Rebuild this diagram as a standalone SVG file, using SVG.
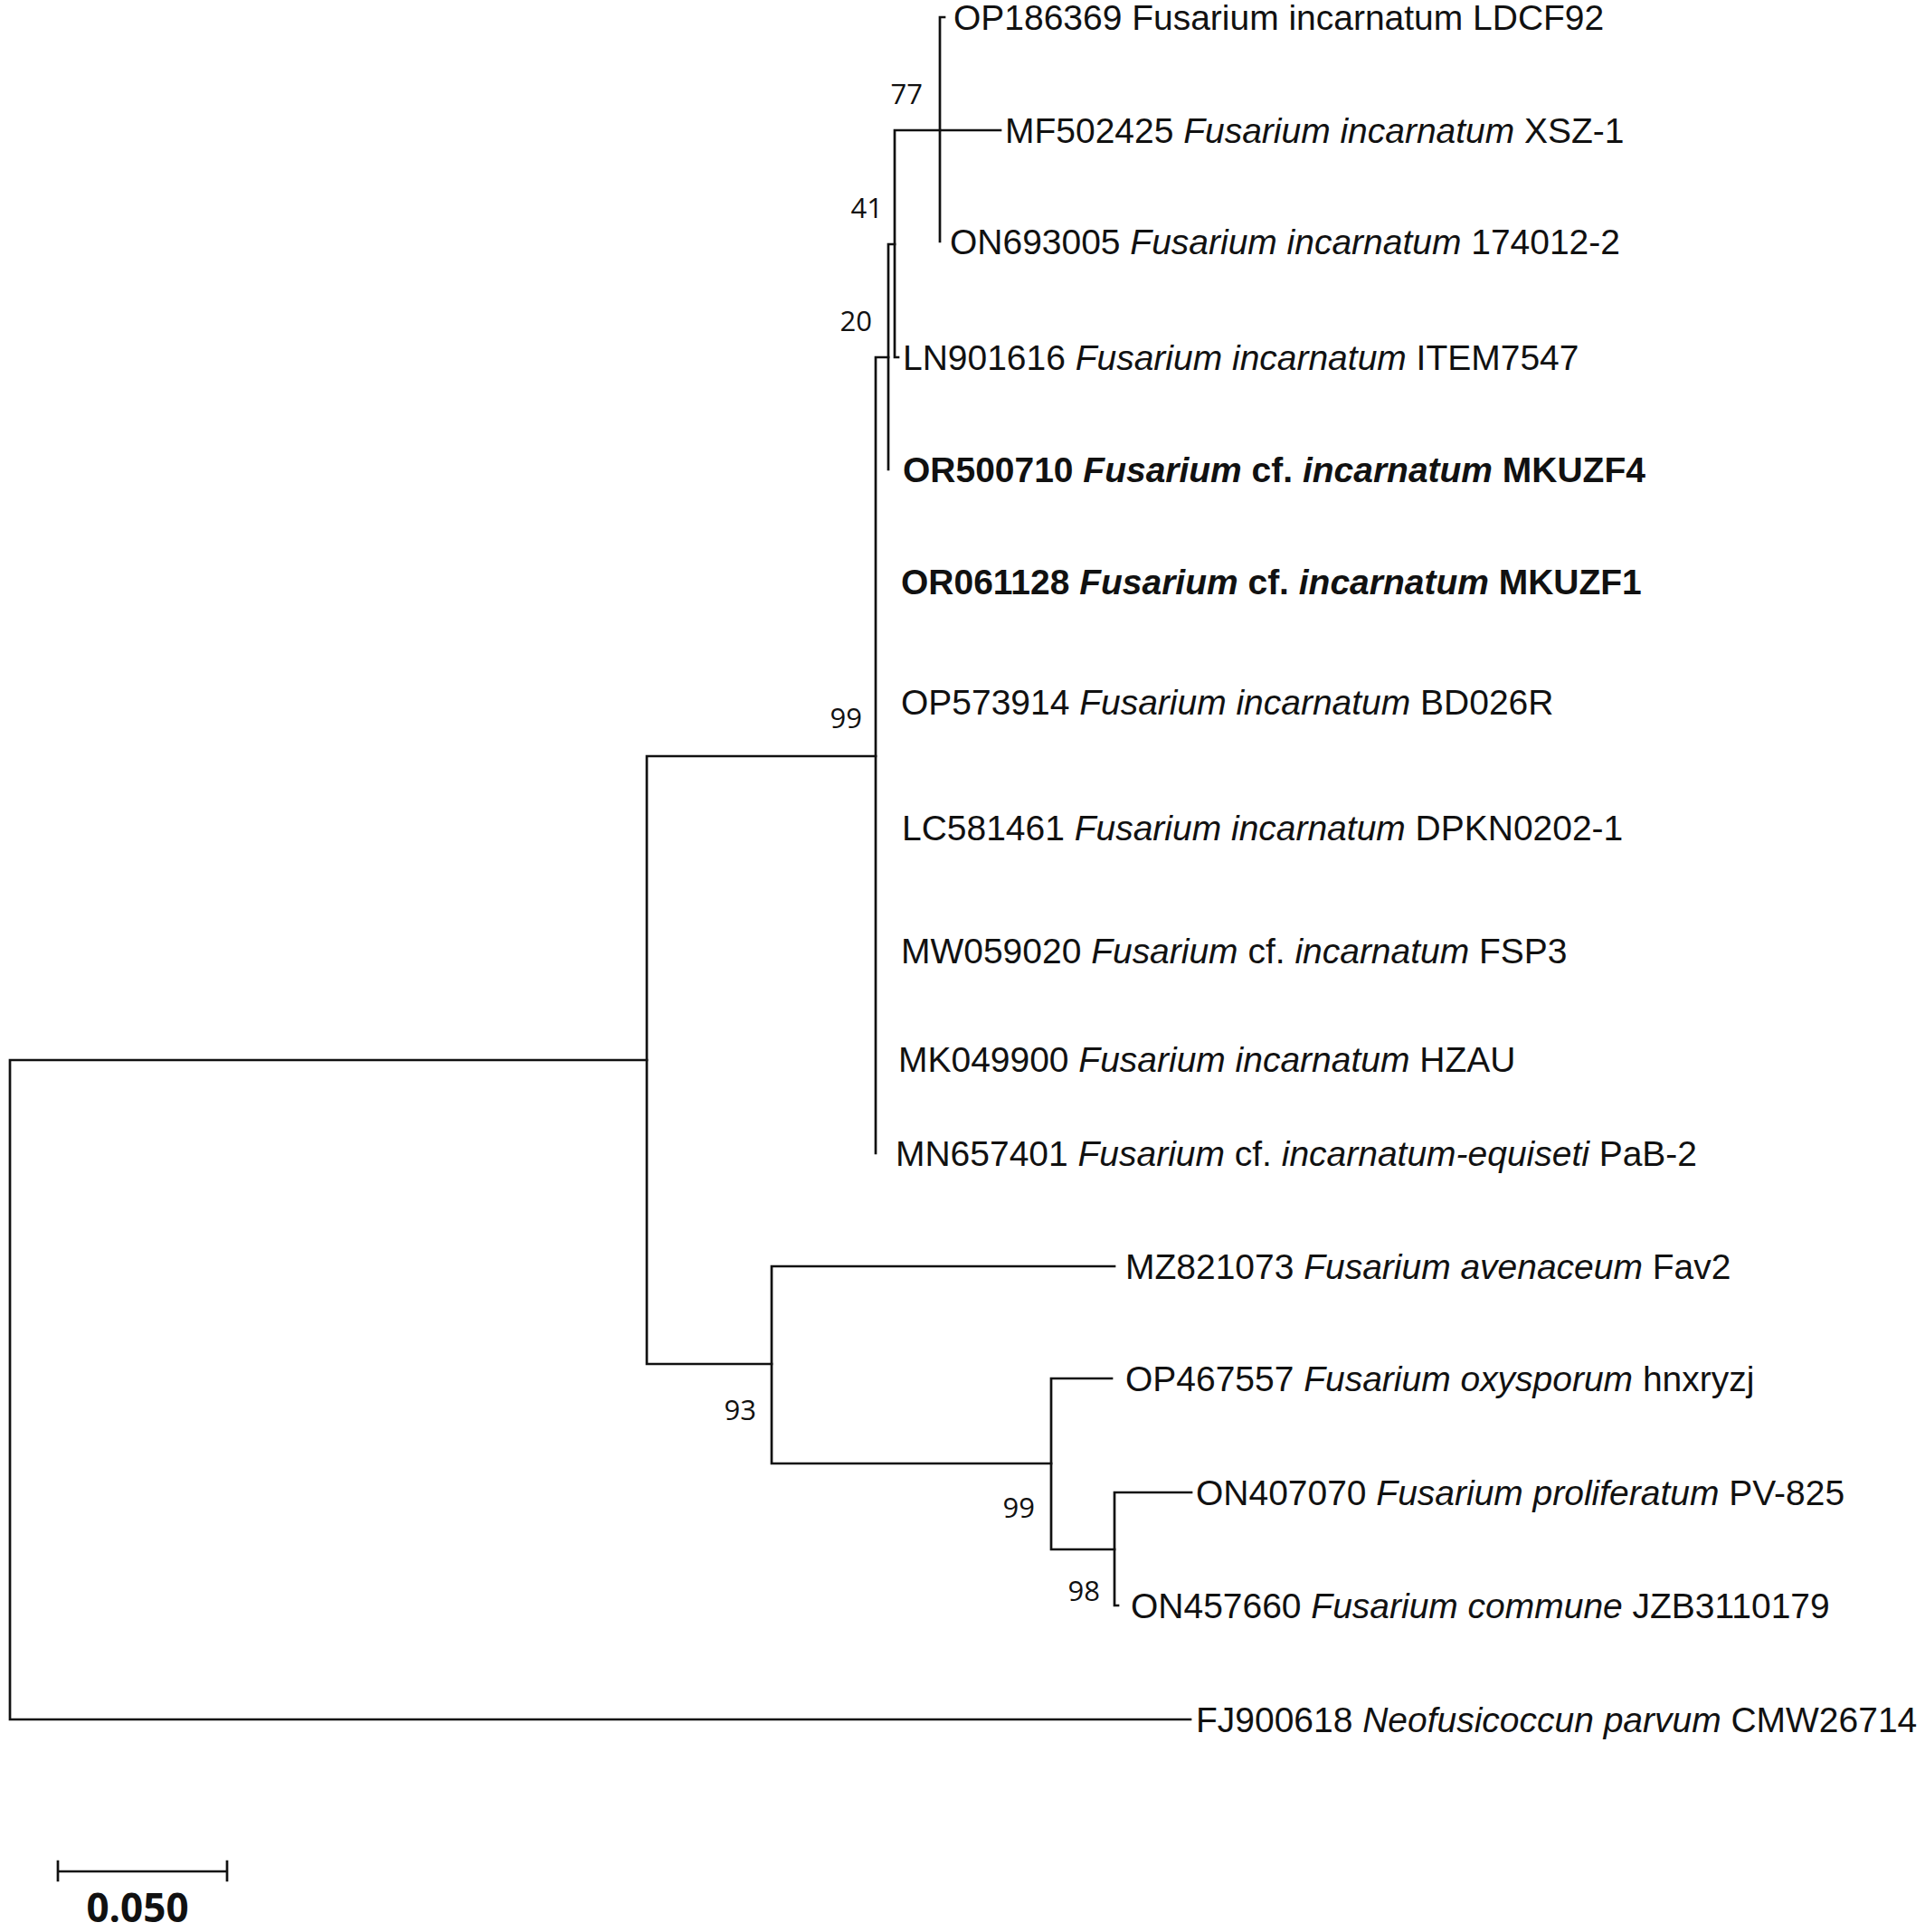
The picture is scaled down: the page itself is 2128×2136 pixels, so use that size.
<svg xmlns="http://www.w3.org/2000/svg" width="2128" height="2136" viewBox="0 0 2128 2136">
<style>
.br{fill:none;stroke:#111;stroke-width:2.7;stroke-linecap:square}
.tx{font-family:"Liberation Sans",Arial,sans-serif;font-size:38px;fill:#111}
.b{font-weight:bold}
.i{font-style:italic}
.bs{font-family:"Open Sans","DejaVu Sans",sans-serif;font-size:31px;fill:#111;text-anchor:end}
.sc{font-family:"Open Sans","DejaVu Sans",sans-serif;font-size:44px;font-weight:bold;fill:#111;text-anchor:middle}
</style>
<rect x="0" y="0" width="2128" height="2136" fill="#fff"/>
<g id="connectors">
<path class="br" d="M11,1172 V1901 M11,1172 H715 M11,1901 H1316"/>
<path class="br" d="M715,836 V1508 M715,836 H968 M715,1508 H853"/>
<path class="br" d="M968,395 V1275 M968,395 H982"/>
<path class="br" d="M982,270 V519 M982,270 H989"/>
<path class="br" d="M989,144 V395 M989,395 H993 M989,144 H1039"/>
<path class="br" d="M1039,19 V267 M1039,19 H1044 M1039,144 H1106"/>
<path class="br" d="M853,1400 V1618 M853,1400 H1232 M853,1618 H1162"/>
<path class="br" d="M1162,1524 V1713 M1162,1524 H1229 M1162,1713 H1232"/>
<path class="br" d="M1232,1650 V1775 M1232,1650 H1317 M1232,1775 H1236"/>
</g>
<g id="bootstrap">
<text class="bs" x="1020" y="115">77</text>
<text class="bs" x="976" y="241">41</text>
<text class="bs" x="964" y="366">20</text>
<text class="bs" x="953" y="805">99</text>
<text class="bs" x="836" y="1570">93</text>
<text class="bs" x="1144" y="1678">99</text>
<text class="bs" x="1216" y="1770">98</text>
</g>
<g id="OP186369"><text class="tx" transform="translate(1054,33) scale(1.026,1)">OP186369 Fusarium incarnatum LDCF92</text></g>
<g id="MF502425"><text class="tx" transform="translate(1111,158) scale(1.026,1)">MF502425 <tspan class="i">Fusarium incarnatum</tspan> XSZ-1</text></g>
<g id="ON693005"><text class="tx" transform="translate(1050,281) scale(1.026,1)">ON693005 <tspan class="i">Fusarium incarnatum</tspan> 174012-2</text></g>
<g id="LN901616"><text class="tx" transform="translate(998,409) scale(1.026,1)">LN901616 <tspan class="i">Fusarium incarnatum</tspan> ITEM7547</text></g>
<g id="OR500710"><text class="tx b" transform="translate(998,533) scale(1.026,1)">OR500710 <tspan class="i">Fusarium</tspan> cf. <tspan class="i">incarnatum</tspan> MKUZF4</text></g>
<g id="OR061128"><text class="tx b" transform="translate(996,657) scale(1.026,1)">OR061128 <tspan class="i">Fusarium</tspan> cf. <tspan class="i">incarnatum</tspan> MKUZF1</text></g>
<g id="OP573914"><text class="tx" transform="translate(996,790) scale(1.026,1)">OP573914 <tspan class="i">Fusarium incarnatum</tspan> BD026R</text></g>
<g id="LC581461"><text class="tx" transform="translate(997,929) scale(1.026,1)">LC581461 <tspan class="i">Fusarium incarnatum</tspan> DPKN0202-1</text></g>
<g id="MW059020"><text class="tx" transform="translate(996,1065) scale(1.026,1)">MW059020 <tspan class="i">Fusarium</tspan> cf. <tspan class="i">incarnatum</tspan> FSP3</text></g>
<g id="MK049900"><text class="tx" transform="translate(993,1185) scale(1.026,1)">MK049900 <tspan class="i">Fusarium incarnatum</tspan> HZAU</text></g>
<g id="MN657401"><text class="tx" transform="translate(990,1289) scale(1.026,1)">MN657401 <tspan class="i">Fusarium</tspan> cf. <tspan class="i">incarnatum-equiseti</tspan> PaB-2</text></g>
<g id="MZ821073"><text class="tx" transform="translate(1244,1414) scale(1.026,1)">MZ821073 <tspan class="i">Fusarium avenaceum</tspan> Fav2</text></g>
<g id="OP467557"><text class="tx" transform="translate(1244,1538) scale(1.026,1)">OP467557 <tspan class="i">Fusarium oxysporum</tspan> hnxryzj</text></g>
<g id="ON407070"><text class="tx" transform="translate(1322,1664) scale(1.026,1)">ON407070 <tspan class="i">Fusarium proliferatum</tspan> PV-825</text></g>
<g id="ON457660"><text class="tx" transform="translate(1250,1789) scale(1.026,1)">ON457660 <tspan class="i">Fusarium commune</tspan> JZB3110179</text></g>
<g id="FJ900618"><text class="tx" transform="translate(1322,1915) scale(1.026,1)">FJ900618 <tspan class="i">Neofusicoccun parvum</tspan> CMW26714</text></g>
<g id="scale-bar">
<path class="br" d="M64,2069 H251 M64,2058 V2079 M251,2058 V2079"/>
<text class="sc" x="152" y="2125">0.050</text>
</g>
</svg>
